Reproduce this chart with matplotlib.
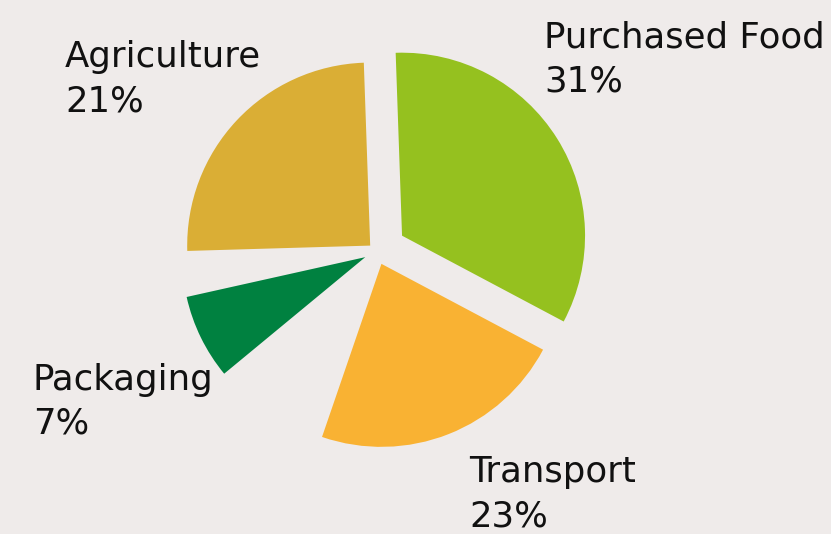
import matplotlib
matplotlib.use("Agg")
import matplotlib.pyplot as plt

# ---- data ----
categories = ["Purchased Food", "Transport", "Packaging", "Agriculture"]
percent_labels = [31, 23, 7, 21]
# angular size of each drawn slice (degrees) as it appears in the picture
slice_degrees = [120.0, 81.0, 27.0, 89.7]
# empty angular space following each slice (degrees)
gap_after_degrees = [0.0, 31.5, 10.9, 0.0]
colors = ["#95C11F", "#F9B233", "#008140", "#DAAE35"]
explode_frac = [0.164, 0.072, 0.069, 0.048]

BG = "#EFEBEA"
TXT = "#111111"
RADIUS = 183

# ---- build the pie sequence (gaps are invisible wedges) ----
values, wcolors, explode, visible = [], [], [], []
for deg, gap, c, ex in zip(slice_degrees, gap_after_degrees, colors, explode_frac):
    values.append(deg); wcolors.append(c); explode.append(ex * RADIUS); visible.append(True)
    if gap > 0:
        values.append(gap); wcolors.append(BG); explode.append(0.0); visible.append(False)

fig = plt.figure(figsize=(8.31, 5.34), dpi=100, facecolor=BG)
ax = fig.add_axes([0, 0, 1, 1])
ax.set_facecolor(BG)

wedges, _ = ax.pie(values, colors=wcolors, explode=explode, startangle=92,
                   counterclock=False, radius=RADIUS, center=(376.6, 282.4),
                   wedgeprops=dict(linewidth=0), frame=True)
for w, v in zip(wedges, visible):
    w.set_visible(v)
ax.set_xlim(0, 831)
ax.set_ylim(0, 534)
ax.set_aspect("equal")
ax.axis("off")

# ---- labels (left x, baseline y of name line in pixels from top) ----
label_pos = {
    "Purchased Food": (544, 47.7),
    "Transport": (469, 482.3),
    "Packaging": (33, 390),
    "Agriculture": (65, 67.3),
}
fs = 25.6
line_gap = 44
for name, pct in zip(categories, percent_labels):
    x, yb = label_pos[name]
    ax.text(x, 534 - yb, name, fontsize=fs, color=TXT, ha="left", va="baseline",
            family="DejaVu Sans")
    ax.text(x, 534 - yb - line_gap, f"{pct}%", fontsize=fs, color=TXT, ha="left",
            va="baseline", family="DejaVu Sans")

fig.savefig("out.png", dpi=100, facecolor=BG)
